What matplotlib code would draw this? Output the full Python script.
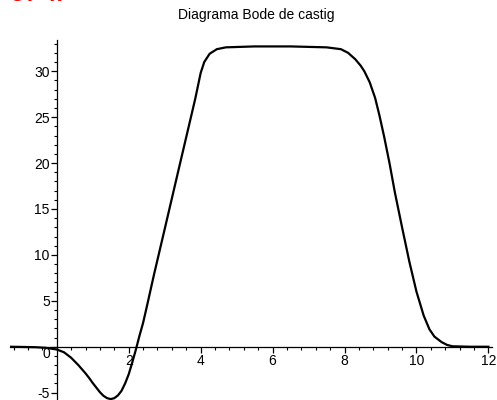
import matplotlib
matplotlib.use("Agg")
import matplotlib.pyplot as plt
from matplotlib.ticker import MultipleLocator, FixedLocator

plt.rcParams['font.family'] = ['Liberation Sans', 'DejaVu Sans']

# Curve (x, gain in dB)
x_vals = [-1.3, -1.0, -0.6, -0.3, 0.0, 0.2, 0.4, 0.6, 0.8, 0.9, 1.0, 1.1, 1.2, 1.3,
          1.4, 1.5, 1.6, 1.7, 1.8, 1.9, 2.0, 2.1, 2.2, 2.3, 2.4, 2.5,
          2.7, 3.0, 3.4, 3.7, 3.85, 4.0, 4.1, 4.25, 4.45, 4.7, 5.5, 6.5,
          7.5, 7.9, 8.1, 8.3, 8.45, 8.55, 8.7, 8.85, 8.97, 9.1, 9.25, 9.4,
          9.6, 9.8, 10.0, 10.2, 10.36, 10.5, 10.7, 10.85, 11.0, 11.5, 12.0]
y_vals = [0.0, -0.02, -0.05, -0.12, -0.3, -0.6, -1.2, -2.0, -2.9, -3.4, -3.95, -4.45, -4.95, -5.35,
          -5.6, -5.7, -5.6, -5.3, -4.8, -4.0, -3.0, -1.7, -0.3, 1.2, 2.6, 4.3,
          7.8, 12.8, 19.5, 24.5, 27.0, 29.8, 31.0, 31.9, 32.4, 32.6, 32.7, 32.7,
          32.6, 32.4, 32.0, 31.3, 30.6, 30.0, 28.8, 27.1, 25.2, 22.9, 20.0, 16.8,
          13.0, 9.3, 6.0, 3.4, 1.9, 1.1, 0.5, 0.2, 0.05, 0.0, 0.0]

x_ticks = [2, 4, 6, 8, 10, 12]
y_ticks = [-5, 0, 5, 10, 15, 20, 25, 30]
title_text = "Diagrama Bode de castig"

fig = plt.figure(figsize=(4.97, 4.0), dpi=100)
ax = fig.add_axes([10 / 497, 0.0, 482 / 497, 0.9])

ax.plot(x_vals, y_vals, color='black', lw=1.6, solid_joinstyle='round')

ax.set_xlim(-1.3, 12.1)
ax.set_ylim(-5.8, 33.4)

ax.spines['left'].set_position(('data', 0))
ax.spines['bottom'].set_position(('data', 0))
ax.spines['top'].set_visible(False)
ax.spines['right'].set_visible(False)
for s in ('left', 'bottom'):
    ax.spines[s].set_linewidth(0.9)

ax.xaxis.set_major_locator(FixedLocator(x_ticks))
ax.xaxis.set_minor_locator(MultipleLocator(0.4))
ax.yaxis.set_major_locator(FixedLocator(y_ticks))
ax.yaxis.set_minor_locator(MultipleLocator(1))

ax.tick_params(axis='both', which='major', direction='out', length=4, width=0.9,
               labelsize=10, pad=1)
ax.tick_params(axis='both', which='minor', direction='out', length=2, width=0.8)
ax.set_xticklabels([str(t) for t in x_ticks])
ax.set_yticklabels([str(t) for t in y_ticks])
for lbl in ax.get_yticklabels():
    if lbl.get_text() == '0':
        lbl.set_va('top')

fig.text(256 / 497, 1 - 15 / 400, title_text, ha='center', va='center', fontsize=10)
fig.text(0.0, 1.025, "Lg(ω))", color='red', fontsize=16, fontweight='bold',
         style='italic', ha='left', va='center')

fig.savefig("out.png", dpi=100)
